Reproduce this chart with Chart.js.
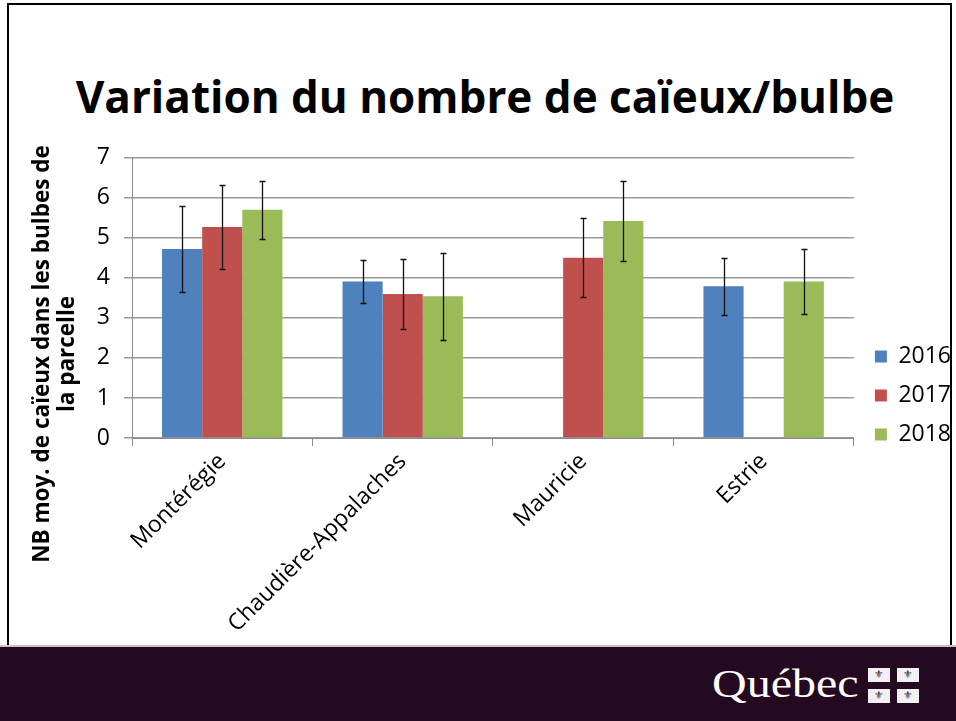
<!DOCTYPE html>
<html>
<head>
<meta charset="utf-8">
<script src="https://cdn.jsdelivr.net/npm/chart.js@4.4.1/dist/chart.umd.min.js"></script>
<style>
body{margin:0;background:#fff;}
#slide{position:relative;width:956px;height:721px;overflow:hidden;font-family:"Open Sans",sans-serif;background:#fff;}
#frame{position:absolute;left:7px;top:3px;width:945px;height:660px;border:2px solid #000;box-sizing:border-box;}
#title{position:absolute;left:0;top:76px;width:970px;text-align:center;font-size:44px;font-weight:bold;line-height:40px;color:#000;}
#chartbox{position:absolute;left:0;top:130px;width:956px;height:515px;}
#band{position:absolute;left:0;top:645px;width:956px;height:76px;background:#240a20;border-top:2px solid #cdbfcb;box-sizing:border-box;}
#logo{position:absolute;left:712px;top:664px;font-family:"Liberation Serif",serif;font-size:40px;line-height:40px;color:#fff;transform:scaleX(1.2);transform-origin:0 0;}
#flag{position:absolute;left:868px;top:668px;width:51px;height:35px;}
#flag span{position:absolute;width:22px;height:14px;background:#f2f0f2;color:#3a2a38;font-size:11px;line-height:14px;text-align:center;font-family:"DejaVu Sans";}
</style>
</head>
<body>
<div id="slide">
  <div id="frame"></div>
  <div id="title">Variation du nombre de caïeux/bulbe</div>
  <div id="chartbox"><canvas id="myChart" width="956" height="515"></canvas></div>
  <div id="band"></div>
  <div id="logo">Québec</div>
  <div id="flag">
    <span style="left:0;top:0">⚜</span><span style="left:29px;top:0">⚜</span>
    <span style="left:0;top:21px">⚜</span><span style="left:29px;top:21px">⚜</span>
  </div>
</div>
<script>
// data
let regions = ['Montérégie', 'Chaudière-Appalaches', 'Mauricie', 'Estrie'];
let years = ['2016', '2017', '2018'];
let val2016 = [4.72, 3.91, null, 3.79];
let val2017 = [5.27, 3.60, 4.50, null];
let val2018 = [5.70, 3.54, 5.42, 3.91];
// +/- error bar sizes
let err2016 = [1.08, 0.53, null, 0.71];
let err2017 = [1.06, 0.88, 0.99, null];
let err2018 = [0.73, 1.08, 1.00, 0.81];
let yTicks = [0, 1, 2, 3, 4, 5, 6, 7];
let yTitle = ['NB moy. de caïeux dans les bulbes de', 'la parcelle'];

let colors = ['#4f81bd', '#c0504d', '#9bbb59'];

// error bars drawn on top of the bars
const errorBars = {
    id: 'errorBars',
    afterDatasetsDraw(chart) {
        const ctx = chart.ctx;
        const y = chart.scales.y;
        chart.data.datasets.forEach((ds, i) => {
            const meta = chart.getDatasetMeta(i);
            meta.data.forEach((bar, j) => {
                const v = ds.data[j], e = ds.errors[j];
                if (v == null || e == null) return;
                const x = Math.round(bar.x) + 0.5;
                const top = Math.round(y.getPixelForValue(v + e)) + 0.5;
                const bot = Math.round(y.getPixelForValue(v - e)) + 0.5;
                ctx.save();
                ctx.strokeStyle = '#111';
                ctx.lineWidth = 1.3;
                ctx.beginPath();
                ctx.moveTo(x, top); ctx.lineTo(x, bot);
                ctx.moveTo(x - 3, top); ctx.lineTo(x + 3, top);
                ctx.moveTo(x - 3, bot); ctx.lineTo(x + 3, bot);
                ctx.stroke();
                ctx.restore();
            });
        });
    }
};

// two-line rotated axis title, placed like the slide
const yAxisTitle = {
    id: 'yAxisTitle',
    afterDraw(chart) {
        const ctx = chart.ctx;
        ctx.save();
        ctx.translate(43, 224);
        ctx.rotate(-Math.PI / 2);
        ctx.font = 'bold 22.5px "Open Sans"';
        ctx.fillStyle = '#000';
        ctx.textAlign = 'center';
        ctx.textBaseline = 'middle';
        ctx.fillText(yTitle[0], 0, 0);
        ctx.fillText(yTitle[1], 0, 25);
        ctx.restore();
    }
};

// push the legend a few px to the right, like the slide
const legendNudge = {
    id: 'legendNudge',
    afterLayout(chart) {
        chart.legend.left += 5;
        chart.legend.right += 5;
    }
};

var ct = document.getElementById('myChart');
let chart = new Chart(ct, {
    type: 'bar',
    data: {
        labels: regions,
        datasets: [
            { label: years[0], data: val2016, errors: err2016, backgroundColor: colors[0] },
            { label: years[1], data: val2017, errors: err2017, backgroundColor: colors[1] },
            { label: years[2], data: val2018, errors: err2018, backgroundColor: colors[2] }
        ]
    },
    options: {
        responsive: false,
        animation: false,
        categoryPercentage: 0.667,
        barPercentage: 1,
        layout: { padding: { top: 16, right: 0, left: 0, bottom: 0 } },
        plugins: {
            legend: {
                position: 'right',
                align: 'center',
                labels: {
                    boxWidth: 12,
                    boxHeight: 12,
                    padding: 16,
                    color: '#000',
                    font: { family: 'Open Sans', size: 23 }
                }
            },
            tooltip: { enabled: false }
        },
        scales: {
            x: {
                grid: { offset: true, drawOnChartArea: false, drawTicks: true, tickLength: 8, color: '#8a8a8a' },
                border: { color: '#8a8a8a' },
                ticks: { color: '#000', font: { family: 'Open Sans', size: 23 }, minRotation: 45, maxRotation: 45, padding: 2 },
                afterFit(s) { s.height = 207; }
            },
            y: {
                min: 0,
                max: 7,
                afterBuildTicks(s) { s.ticks = yTicks.map(v => ({ value: v })); },
                grid: { color: '#9a9a9a', lineWidth: 1.5, tickLength: 8 },
                border: { color: '#8a8a8a' },
                ticks: { color: '#000', font: { family: 'Open Sans', size: 23 }, padding: 14 },
                afterFit(s) { s.width = 132; }
            }
        }
    },
    plugins: [errorBars, yAxisTitle, legendNudge]
});
</script>
</body>
</html>
